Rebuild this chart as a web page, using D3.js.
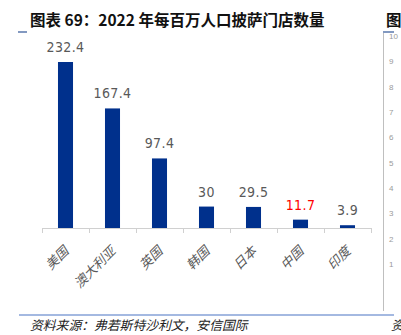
<!DOCTYPE html>
<html>
<head>
<meta charset="utf-8">
<script src="https://cdn.jsdelivr.net/npm/d3@7"></script>
<style>
  body { margin: 0; background: #fff; }
  svg { display: block; }
</style>
</head>
<body>
<div id="chart"></div>
<script>
// pizza stores per million people, 2022
var countries = ['美国', '澳大利亚', '英国', '韩国', '日本', '中国', '印度'];
var stores = [232.4, 167.4, 97.4, 30, 29.5, 11.7, 3.9];
var highlight = '中国';

// faint tick labels of the neighbouring chart, cut by the page edge
var sideTicks = ['10', '9', '8', '7', '6', '5', '4', '3', '2', '1'];

var width = 401, height = 335;
var plot = {left: 42, right: 371, base: 228, top: 62};
var cjk = '"Noto Sans CJK SC", "Noto Sans", sans-serif';
var navy = '#00308c';

var svg = d3.select('#chart')
  .append('svg')
  .attr('width', width)
  .attr('height', height);

var x = d3.scaleBand()
  .domain(countries)
  .range([plot.left, plot.right])
  .paddingInner(0.68)
  .paddingOuter(0.34);

var y = d3.scaleLinear()
  .domain([0, 232.4])
  .range([plot.base, plot.top]);

// title with its short blue lead-in mark
svg.append('line')
  .attr('x1', 18).attr('x2', 27)
  .attr('y1', 32).attr('y2', 32)
  .attr('stroke', '#2f5597').attr('stroke-width', 1.2);

svg.append('text')
  .attr('x', 30)
  .attr('y', 26)
  .attr('font-family', cjk)
  .attr('font-weight', 'bold')
  .attr('font-size', '15.5px')
  .attr('fill', '#111')
  .text('图表 69：2022 年每百万人口披萨门店数量');

// bars
svg.selectAll('rect.bar')
  .data(stores)
  .enter()
  .append('rect')
  .attr('class', 'bar')
  .attr('x', function(d, i) { return x(countries[i]); })
  .attr('width', x.bandwidth())
  .attr('y', function(d) { return y(d); })
  .attr('height', function(d) { return plot.base - y(d); })
  .attr('fill', navy);

// value labels
svg.selectAll('text.value')
  .data(stores)
  .enter()
  .append('text')
  .attr('class', 'value')
  .attr('x', function(d, i) { return x(countries[i]) + x.bandwidth() / 2; })
  .attr('y', function(d) { return y(d) - 10; })
  .attr('text-anchor', 'middle')
  .attr('font-family', '"Liberation Sans Narrow", "DejaVu Sans Condensed", sans-serif')
  .attr('font-size', '14px')
  .attr('letter-spacing', '0.4px')
  .attr('fill', function(d, i) { return countries[i] === highlight ? '#ff0000' : '#595959'; })
  .text(function(d) { return String(d); });

// category axis: baseline plus ticks at band edges
var axis = svg.append('g');
axis.append('line')
  .attr('x1', plot.left).attr('x2', plot.right)
  .attr('y1', plot.base + 0.5).attr('y2', plot.base + 0.5)
  .attr('stroke', '#d0d0d0');

var edges = countries.map(function(c) { return x(c) - x.step() * x.paddingInner() / 2; });
edges.push(plot.right);
axis.selectAll('line.tick')
  .data(edges)
  .enter()
  .append('line')
  .attr('class', 'tick')
  .attr('x1', function(d) { return Math.round(d) + 0.5; })
  .attr('x2', function(d) { return Math.round(d) + 0.5; })
  .attr('y1', plot.base)
  .attr('y2', plot.base + 5)
  .attr('stroke', '#d0d0d0');

axis.selectAll('text.cat')
  .data(countries)
  .enter()
  .append('text')
  .attr('class', 'cat')
  .attr('transform', function(d) {
    return 'translate(' + (x(d) + x.bandwidth() / 2 + 4) + ',' + (plot.base + 24) + ') rotate(-45)';
  })
  .attr('text-anchor', 'end')
  .attr('font-family', cjk)
  .attr('font-style', 'italic')
  .attr('font-size', '13px')
  .attr('fill', '#595959')
  .text(function(d) { return d; });

// footer rule and source
svg.append('line')
  .attr('x1', 19).attr('x2', 394)
  .attr('y1', 315).attr('y2', 315)
  .attr('stroke', '#4a74c4').attr('stroke-width', 1.2);

svg.append('text')
  .attr('x', 30)
  .attr('y', 330)
  .attr('font-family', cjk)
  .attr('font-style', 'italic')
  .attr('font-size', '12.8px')
  .attr('fill', '#222')
  .text('资料来源：弗若斯特沙利文，安信国际');

// edge of the next chart on the right
svg.append('line')
  .attr('x1', 383).attr('x2', 394)
  .attr('y1', 32).attr('y2', 32)
  .attr('stroke', '#2f5597').attr('stroke-width', 1.2);
svg.append('line')
  .attr('x1', 383.5).attr('x2', 383.5)
  .attr('y1', 33).attr('y2', 311)
  .attr('stroke', '#bfbfbf');
svg.append('text')
  .attr('x', 386).attr('y', 26)
  .attr('font-family', cjk).attr('font-weight', 'bold')
  .attr('font-size', '15.5px').attr('fill', '#111')
  .text('图');
svg.append('text')
  .attr('x', 391).attr('y', 330)
  .attr('font-family', cjk).attr('font-style', 'italic')
  .attr('font-size', '12.8px').attr('fill', '#222')
  .text('资');

var sideY = d3.scaleLinear().domain([0, sideTicks.length - 1]).range([36, 264]);
svg.selectAll('text.side')
  .data(sideTicks)
  .enter()
  .append('text')
  .attr('class', 'side')
  .attr('x', 389)
  .attr('y', function(d, i) { return sideY(i) + 3; })
  .attr('font-family', 'sans-serif')
  .attr('font-size', '8px')
  .attr('fill', '#9a9a9a')
  .text(function(d) { return d; });
</script>
</body>
</html>
